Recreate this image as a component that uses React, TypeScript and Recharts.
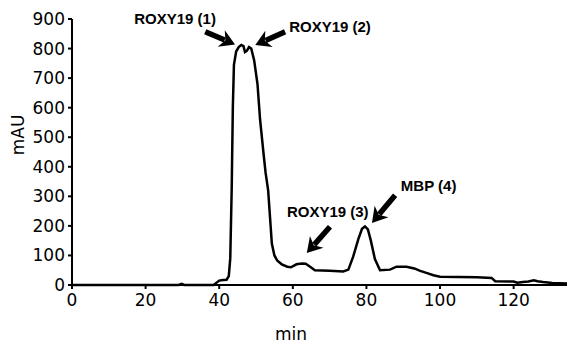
import React from 'react';
import {
  LineChart,
  Line,
  XAxis,
  YAxis,
  ReferenceLine,
  ReferenceDot,
} from 'recharts';

// chromatogram trace
const minutes = [
  0, 1, 29, 29.8, 30.5, 38.5, 39.3, 40, 41, 42, 42.6, 43, 43.4, 43.7, 44, 44.6, 45.3,
  46, 46.6, 47, 47.5, 48.1, 48.7, 49.5, 50.4, 51.1, 52, 52.6, 53.3, 53.8, 54.3, 55,
  55.8, 57, 58.5, 59.5, 61, 62.5, 63.5, 64.7, 66, 70, 73.7, 75.1, 76.4, 77.8, 78.8,
  79.6, 80.4, 81.2, 82.3, 83.7, 86.4, 88.2, 90.9, 93, 94.6, 96.5, 98.2, 100, 105, 110,
  114, 115, 119, 120, 121, 122.5, 124, 125.5, 126.5, 128, 130.5, 134.5,
];
const mAU = [
  0, 0, 0, 4, 0, 0, 8, 15, 17, 18, 30, 90, 330, 600, 745, 790, 805, 812, 808, 788, 792,
  805, 800, 760, 680, 560, 450, 380, 320, 230, 140, 100, 82, 70, 62, 60, 70, 73, 72, 62,
  50, 48, 46, 52, 96, 155, 190, 198, 188, 150, 88, 50, 52, 62, 62, 56, 48, 40, 33, 28,
  27, 26, 24, 13, 12, 12, 8, 10, 12, 16, 13, 10, 7, 5,
];

const xTicks = [0, 20, 40, 60, 80, 100, 120];
const yTicks = [0, 100, 200, 300, 400, 500, 600, 700, 800, 900];

// peak annotations: label centre, arrow tail and arrow tip (data units)
const labels = ['ROXY19 (1)', 'ROXY19 (2)', 'ROXY19 (3)', 'MBP (4)'];
const labelAt = [
  [28, 903],
  [70.1, 874],
  [69.5, 248],
  [96.9, 338],
];
const arrowTail = [
  [36.2, 857],
  [57.9, 857],
  [70.1, 197],
  [87.8, 304],
];
const arrowTip = [
  [44.3, 814],
  [49.8, 812],
  [63.8, 108],
  [81.5, 210],
];

const data = minutes.map((m, i) => ({ min: m, mAU: mAU[i] }));

const TICK = { fill: '#000', fontSize: 17, fontFamily: 'DejaVu Sans' };
const NOTE_FONT = 'Liberation Sans';

function Arrow(p: any) {
  const { x1, y1, x2, y2 } = p;
  const dx = x2 - x1;
  const dy = y2 - y1;
  const len = Math.hypot(dx, dy) || 1;
  const ux = dx / len;
  const uy = dy / len;
  const head = 15;
  const half = 9;
  const bx = x2 - ux * head;
  const by = y2 - uy * head;
  const nx = -uy;
  const ny = ux;
  const pts = [
    [x2, y2],
    [bx + nx * half, by + ny * half],
    [x2 - ux * head * 0.7, y2 - uy * head * 0.7],
    [bx - nx * half, by - ny * half],
  ]
    .map((q) => q.join(','))
    .join(' ');
  return (
    <g>
      <line
        x1={x1}
        y1={y1}
        x2={x2 - ux * head * 0.75}
        y2={y2 - uy * head * 0.75}
        stroke="#000"
        strokeWidth={5.5}
      />
      <polygon points={pts} fill="#000" />
    </g>
  );
}

export default function App() {
  return (
    <div style={{ position: 'absolute', left: 0, top: 0, background: '#fff' }}>
      <LineChart
        width={568}
        height={347}
        data={data}
        margin={{ top: 19, right: 1, left: 0, bottom: 0 }}
      >
        <XAxis
          dataKey="min"
          type="number"
          domain={[0, 134.5]}
          ticks={xTicks}
          allowDataOverflow
          stroke="#000"
          strokeWidth={2}
          tick={TICK}
          tickSize={4}
          tickMargin={5}
          height={62}
          label={{
            content: () => (
              <text x={291} y={340} textAnchor="middle" fontSize={17} fontFamily="DejaVu Sans" fill="#000">
                min
              </text>
            ),
          }}
        />
        <YAxis
          type="number"
          domain={[0, 900]}
          ticks={yTicks}
          interval={0}
          stroke="#000"
          strokeWidth={2}
          tick={TICK}
          tickSize={4}
          tickMargin={3}
          width={72}
          label={{
            content: () => (
              <text
                x={18}
                y={135}
                transform="rotate(-90 18 135)"
                textAnchor="middle"
                dominantBaseline="central"
                fontSize={17}
                fontFamily="DejaVu Sans"
                fill="#000"
              >
                mAU
              </text>
            ),
          }}
        />
        <Line
          type="linear"
          dataKey="mAU"
          stroke="#000"
          strokeWidth={2.5}
          dot={false}
          isAnimationActive={false}
        />
        {labels.map((t, i) => (
          <ReferenceLine
            key={`a${i}`}
            segment={[
              { x: arrowTail[i][0], y: arrowTail[i][1] },
              { x: arrowTip[i][0], y: arrowTip[i][1] },
            ]}
            ifOverflow="visible"
            shape={Arrow}
          />
        ))}
        {labels.map((t, i) => (
          <ReferenceDot
            key={`t${i}`}
            x={labelAt[i][0]}
            y={labelAt[i][1]}
            ifOverflow="visible"
            shape={(p: any) => (
              <text
                x={p.cx}
                y={p.cy}
                textAnchor="middle"
                dominantBaseline="central"
                fontFamily={NOTE_FONT}
                fontWeight="bold"
                fontSize={15}
                fill="#000"
              >
                {t}
              </text>
            )}
          />
        ))}
      </LineChart>
    </div>
  );
}
